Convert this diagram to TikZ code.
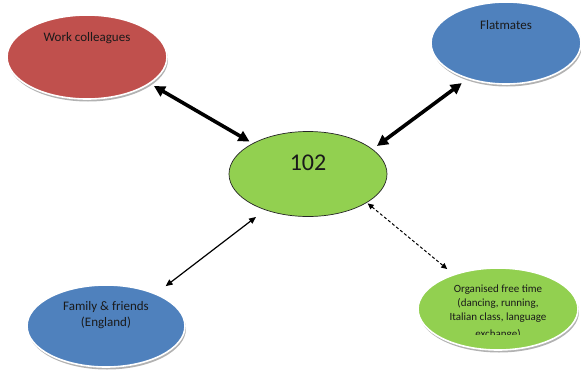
\documentclass[tikz,border=0pt]{standalone}
\usepackage{fontspec}
\setmainfont{Carlito}
\usepackage{trimclip}
\usetikzlibrary{shapes.geometric,shadows,arrows.meta}
\definecolor{wcred}{HTML}{C0504D}
\definecolor{fmblue}{HTML}{4F81BD}
\definecolor{cgreen}{HTML}{92D050}
\definecolor{ink}{HTML}{1A1A1A}
\begin{document}
\begin{tikzpicture}[x=1pt,y=-1pt,
  bubble/.style={ellipse, minimum width=160pt, minimum height=84pt, inner sep=0pt,
    draw=white, line width=1.6pt,
    drop shadow={shadow xshift=1pt, shadow yshift=-2.5pt, fill=black, opacity=0.3}},
  hub/.style={ellipse, minimum width=158pt, minimum height=85pt, inner sep=0pt,
    draw=black!85, line width=0.7pt, fill=cgreen},
  lbl/.style={text=ink, align=center, font=\fontsize{13}{16}\selectfont},
  thickarr/.style={line width=3.6pt, {Triangle[length=11pt,width=11pt]}-{Triangle[length=11pt,width=11pt]}},
  thinarr/.style={line width=1.2pt, {Triangle[length=7pt,width=6pt]}-{Triangle[length=7pt,width=6pt]}},
  dasharr/.style={line width=1pt, dash pattern=on 3pt off 2.2pt, {Triangle[length=6pt,width=5.5pt]}-{Triangle[length=6pt,width=5.5pt]}}
]
\useasboundingbox (0,0) rectangle (581,370);

\node[bubble, fill=wcred] (wc) at (87,57)
  [label={[lbl, name=wct, yshift=19pt]center:Work colleagues}] {};
\node[bubble, fill=fmblue, minimum width=150pt, minimum height=82pt] (fm) at (506,43)
  [label={[lbl, name=fmt, yshift=18pt]center:Flatmates}] {};
\node[bubble, fill=fmblue, minimum width=158pt, minimum height=82pt] (ff) at (106,326)
  [label={[lbl, name=fft, yshift=11pt]center:Family \& friends\\(England)}] {};
\node[bubble, fill=cgreen, minimum width=160pt, minimum height=82pt] (org) at (498,309)
  [label={[lbl, name=orgt, yshift=-1pt, font=\fontsize{11}{14}\selectfont]center:Organised free time\\(dancing, running,\\Italian class, language\\\clipbox{0pt 4.5pt 0pt 0pt}{exchange)}}] {};
\node[hub] (c) at (308,174)
  [label={[lbl, name=ct, yshift=11pt, font=\fontsize{24}{28}\selectfont]center:102}] {};

\draw[thickarr, shorten <=4.5pt, shorten >=3.6pt] (wc.-23) -- (c.151);
\draw[thickarr, shorten <=7pt, shorten >=5.4pt] (fm.223) -- (c.21);
\draw[thinarr, shorten <=12pt, shorten >=11.4pt] (ff.33.5) -- (c.220);
\draw[dasharr, shorten <=1pt, shorten >=8pt] (c.-26) -- (org.142.6);
\end{tikzpicture}
\end{document}
